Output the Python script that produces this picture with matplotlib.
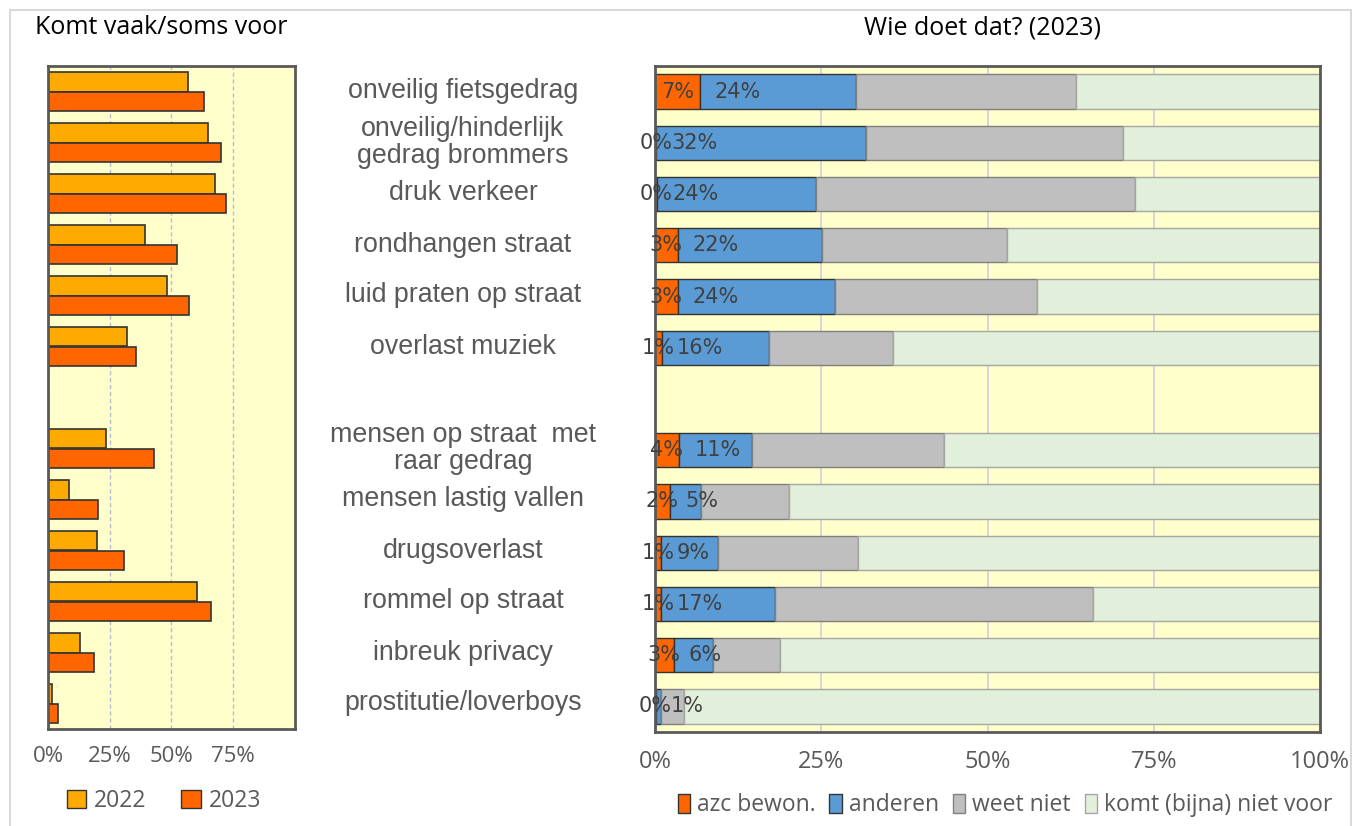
import numpy as np
import matplotlib
matplotlib.use("Agg")
import matplotlib.pyplot as plt
from matplotlib.patches import Rectangle, Patch

# categories (blank entry = gap row)
categories = ["onveilig fietsgedrag", "onveilig/hinderlijk\ngedrag brommers", "druk verkeer",
              "rondhangen straat", "luid praten op straat", "overlast muziek", "",
              "mensen op straat  met\nraar gedrag", "mensen lastig vallen", "drugsoverlast",
              "rommel op straat", "inbreuk privacy", "prostitutie/loverboys"]

# left chart: komt vaak/soms voor (%)
y2022 = [56.5, 64.8, 67.5, 39.4, 48.3, 32.1, None, 23.3, 8.7, 19.8, 60.2, 12.9, 1.6]
y2023 = [63.3, 70.0, 72.2, 52.4, 57.0, 35.8, None, 43.0, 20.3, 30.6, 65.9, 18.7, 4.2]

# right chart: wie doet dat? (2023) (%)
azc = [6.7, 0.2, 0.3, 3.4, 3.4, 1.0, None, 3.6, 2.2, 0.9, 0.9, 2.8, 0.1]
anderen = [23.6, 31.6, 23.9, 21.7, 23.7, 16.2, None, 11.0, 4.7, 8.6, 17.2, 5.9, 0.8]
weet_niet = [33.0, 38.6, 48.0, 27.8, 30.3, 18.6, None, 28.9, 13.3, 21.0, 47.7, 10.1, 3.4]
komt_niet = [36.7, 29.6, 27.8, 47.1, 42.6, 64.2, None, 56.5, 79.8, 69.5, 34.2, 81.2, 95.7]

left_ticks = [0, 25, 50, 75]
right_ticks = [0, 25, 50, 75, 100]

W, H = 1352, 826
fig = plt.figure(figsize=(W / 100, H / 100), dpi=100)

def rect(x0, y0, x1, y1):
    # pixel box -> figure fraction
    return [x0 / W, 1 - y1 / H, (x1 - x0) / W, (y1 - y0) / H]

txt = "#595959"
frame = "#595959"
bg = "#FFFFCC"

# outer frame
fig.patches.append(Rectangle((10 / W, -0.01), 1341 / W, 1 - 10 / H + 0.01,
                             transform=fig.transFigure, fill=False,
                             edgecolor="#D9D9D9", linewidth=1.5))

rows = [i for i, c in enumerate(categories) if c != ""]

# ---- left chart
ax1 = fig.add_axes(rect(48, 66, 295, 729))
ax1.set_facecolor(bg)
bh = 0.39
for i in rows:
    ax1.barh(i - bh / 2, y2022[i], height=bh, color="#FFAA00", edgecolor="#333333", linewidth=1.2)
    ax1.barh(i + bh / 2, y2023[i], height=bh, color="#FF6600", edgecolor="#333333", linewidth=1.2)
ax1.set_xlim(0, 100)
ax1.set_ylim(12.5, -0.5)
ax1.set_xticks(left_ticks)
ax1.set_xticklabels([f"{t}%" for t in left_ticks])
ax1.set_yticks([])
ax1.xaxis.grid(True, color="#B4BCD6", linestyle=(0, (3, 2)), linewidth=1)
ax1.set_axisbelow(True)
ax1.tick_params(axis="x", length=0, pad=12, labelsize=16, labelcolor=txt)
for lab in ax1.get_xticklabels():
    lab.set_family("Open Sans")
for s in ax1.spines.values():
    s.set_color(frame)
    s.set_linewidth(2)

fig.text(161 / W, 1 - 28 / H, "Komt vaak/soms voor", ha="center", va="center",
         fontsize=18, family="Open Sans", color="black")

leg1 = fig.legend(handles=[Patch(facecolor="#FFAA00", edgecolor="#333333", label="2022"),
                           Patch(facecolor="#FF6600", edgecolor="#333333", label="2023")],
                  loc="center", bbox_to_anchor=(164 / W, 1 - 801 / H), ncol=2, frameon=False,
                  handlelength=0.85, handleheight=0.85, handletextpad=0.35, columnspacing=1.5,
                  prop={"family": "Open Sans", "size": 16.5})
for t in leg1.get_texts():
    t.set_color(txt)

# ---- category labels, centred on their rows
for i in rows:
    yc = 66 + (i + 0.5) * 51
    fig.text(463 / W, 1 - yc / H, categories[i], ha="center", va="center",
             fontsize=19.3, family="Liberation Sans", color=txt, linespacing=1.05)

# ---- right chart
ax2 = fig.add_axes(rect(655, 66, 1320, 732))
ax2.set_facecolor(bg)
bh2 = 0.67
series = [(azc, "#FF6600", "#333333", "azc bewon."),
          (anderen, "#5B9BD5", "#333333", "anderen"),
          (weet_niet, "#BFBFBF", "#808080", "weet niet"),
          (komt_niet, "#E2EFDA", "#A6A6A6", "komt (bijna) niet voor")]
for i in rows:
    left = 0
    for vals, col, ec, lab in series:
        ax2.barh(i, vals[i], left=left, height=bh2, color=col, edgecolor=ec, linewidth=1)
        left += vals[i]
    ax2.text(azc[i] / 2, i, f"{round(azc[i])}%", ha="center", va="center",
             fontsize=15, color="#404040", family="Liberation Sans Narrow")
    ax2.annotate(f"{round(anderen[i])}%", (azc[i], i), xytext=(11, 0), textcoords="offset points",
                 ha="left", va="center", fontsize=15, color="#404040", family="Liberation Sans Narrow")
ax2.set_xlim(0, 100)
ax2.set_ylim(12.5, -0.5)
ax2.set_xticks(right_ticks)
ax2.set_xticklabels([f"{t}%" for t in right_ticks])
ax2.set_yticks([])
ax2.xaxis.grid(True, color="#D0D0D8", linewidth=1.2)
ax2.set_axisbelow(True)
ax2.tick_params(axis="x", length=0, pad=13, labelsize=17, labelcolor=txt)
for lab in ax2.get_xticklabels():
    lab.set_family("Open Sans")
for s in ax2.spines.values():
    s.set_color(frame)
    s.set_linewidth(2)

fig.text(983 / W, 1 - 28 / H, "Wie doet dat? (2023)", ha="center", va="center",
         fontsize=18, family="Open Sans", color="black")

leg2 = fig.legend(handles=[Patch(facecolor=c, edgecolor=e, label=l) for _, c, e, l in series],
                  loc="center", bbox_to_anchor=(1005 / W, 1 - 805 / H), ncol=4, frameon=False,
                  handlelength=0.55, handleheight=0.9, handletextpad=0.3, columnspacing=0.6,
                  prop={"family": "Open Sans", "size": 16.5})
for t in leg2.get_texts():
    t.set_color(txt)

fig.savefig("out.png", dpi=100)
